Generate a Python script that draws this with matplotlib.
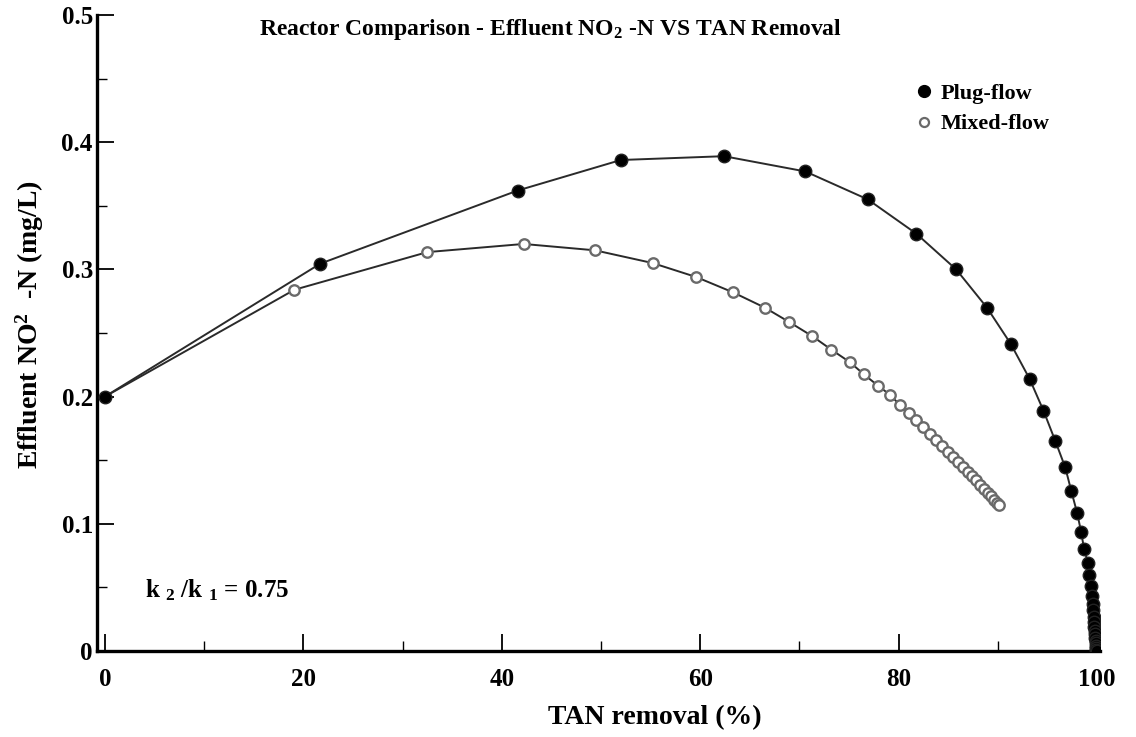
import matplotlib
matplotlib.use("Agg")
import matplotlib.pyplot as plt
from matplotlib.lines import Line2D
from matplotlib.ticker import MultipleLocator, FuncFormatter

# values
plug_x = [0.0, 21.7, 41.6, 52.0, 62.4, 70.6, 76.9, 81.8, 85.8, 88.9, 91.3, 93.2,
          94.6, 95.8, 96.8, 97.4, 98.0, 98.4, 98.7, 99.1, 99.2, 99.4, 99.5, 99.55,
          99.6, 99.65, 99.7, 99.73, 99.76, 99.8, 99.83, 99.86, 99.88, 99.9, 99.92,
          99.93, 99.95]
plug_y = [0.200, 0.3045, 0.362, 0.386, 0.389, 0.377, 0.355, 0.328, 0.300, 0.270,
          0.2415, 0.214, 0.189, 0.165, 0.1443, 0.126, 0.1084, 0.0935, 0.080, 0.069,
          0.060, 0.051, 0.043, 0.037, 0.032, 0.027, 0.023, 0.019, 0.016, 0.013,
          0.010, 0.008, 0.006, 0.004, 0.002, 0.001, 0.0]

mixed_x = [0.0, 19.1, 32.5, 42.2, 49.4, 55.2, 59.6, 63.3, 66.5, 69.0, 71.3, 73.2,
           75.1, 76.5, 77.9, 79.1, 80.1, 81.0, 81.8, 82.5, 83.2, 83.8, 84.4, 85.0,
           85.5, 86.0, 86.5, 87.0, 87.4, 87.8, 88.2, 88.6, 89.0, 89.3, 89.6, 89.9,
           90.1]
mixed_y = [0.200, 0.284, 0.3136, 0.320, 0.315, 0.305, 0.294, 0.282, 0.270, 0.2585,
           0.2475, 0.237, 0.227, 0.2175, 0.2087, 0.2016, 0.1937, 0.1872, 0.1813,
           0.1760, 0.1707, 0.1661, 0.1614, 0.1567, 0.1528, 0.1488, 0.1448, 0.1407,
           0.1374, 0.1341, 0.1308, 0.1274, 0.1241, 0.1215, 0.1190, 0.1164, 0.1147]

title = "Reactor Comparison - Effluent NO$_2$ -N VS TAN Removal"
xlabel = "TAN removal (%)"
ylabel = "Effluent NO$^2$  -N (mg/L)"
note = "k $_2$ /k $_1$ = 0.75"

plt.rcParams['font.family'] = ['Liberation Serif', 'DejaVu Serif']
plt.rcParams['font.weight'] = 'bold'
plt.rcParams['mathtext.default'] = 'regular'

fig = plt.figure(figsize=(11.36, 7.37), dpi=100)
ax = fig.add_axes([97/1136, 1 - 651/737, 1003/1136, 636/737])

ax.plot(mixed_x, mixed_y, color='#2a2a2a', lw=1.4, marker='o', ms=7.5,
        mfc='white', mec='#6a6a6a', mew=1.7, zorder=2)
ax.plot(plug_x, plug_y, color='#2a2a2a', lw=1.4, marker='o', ms=9,
        mfc='black', mec='#222222', zorder=3)

ax.set_xlim(-0.8, 100.3)
ax.set_ylim(0, 0.5)
ax.spines['top'].set_visible(False)
ax.spines['right'].set_visible(False)
ax.spines['left'].set_linewidth(2.4)
ax.spines['bottom'].set_linewidth(2.4)

ax.xaxis.set_major_locator(MultipleLocator(20))
ax.xaxis.set_minor_locator(MultipleLocator(10))
ax.yaxis.set_major_locator(MultipleLocator(0.1))
ax.yaxis.set_minor_locator(MultipleLocator(0.05))
ax.yaxis.set_major_formatter(FuncFormatter(lambda v, p: "%g" % round(v, 2)))
ax.tick_params(which='major', direction='in', length=12, width=1.3, labelsize=18)
ax.tick_params(which='minor', direction='in', length=7, width=1.0)
ax.tick_params(axis='x', pad=12)
ax.tick_params(axis='y', pad=3)

fig.text(550/1136, 1 - 30/737, title, ha='center', va='center', fontsize=17)
fig.text(655/1136, 1 - 718/737, xlabel, ha='center', va='center', fontsize=20)
fig.text(30/1136, 1 - 325/737, ylabel, ha='center', va='center', fontsize=20,
         rotation=90)
ax.text(4.0, 0.048, note, fontsize=18, va='center', ha='left')

handles = [Line2D([], [], ls='none', marker='o', ms=8.5, mfc='black', mec='black'),
           Line2D([], [], ls='none', marker='o', ms=6.5, mfc='white', mec='#6a6a6a',
                  mew=1.6)]
ax.legend(handles, ["Plug-flow", "Mixed-flow"], loc='upper left',
          bbox_to_anchor=(0.806, 0.91), frameon=False, fontsize=16,
          handlelength=0.7, handletextpad=0.4, labelspacing=0.45, borderpad=0)

fig.savefig("out.png", dpi=100)
